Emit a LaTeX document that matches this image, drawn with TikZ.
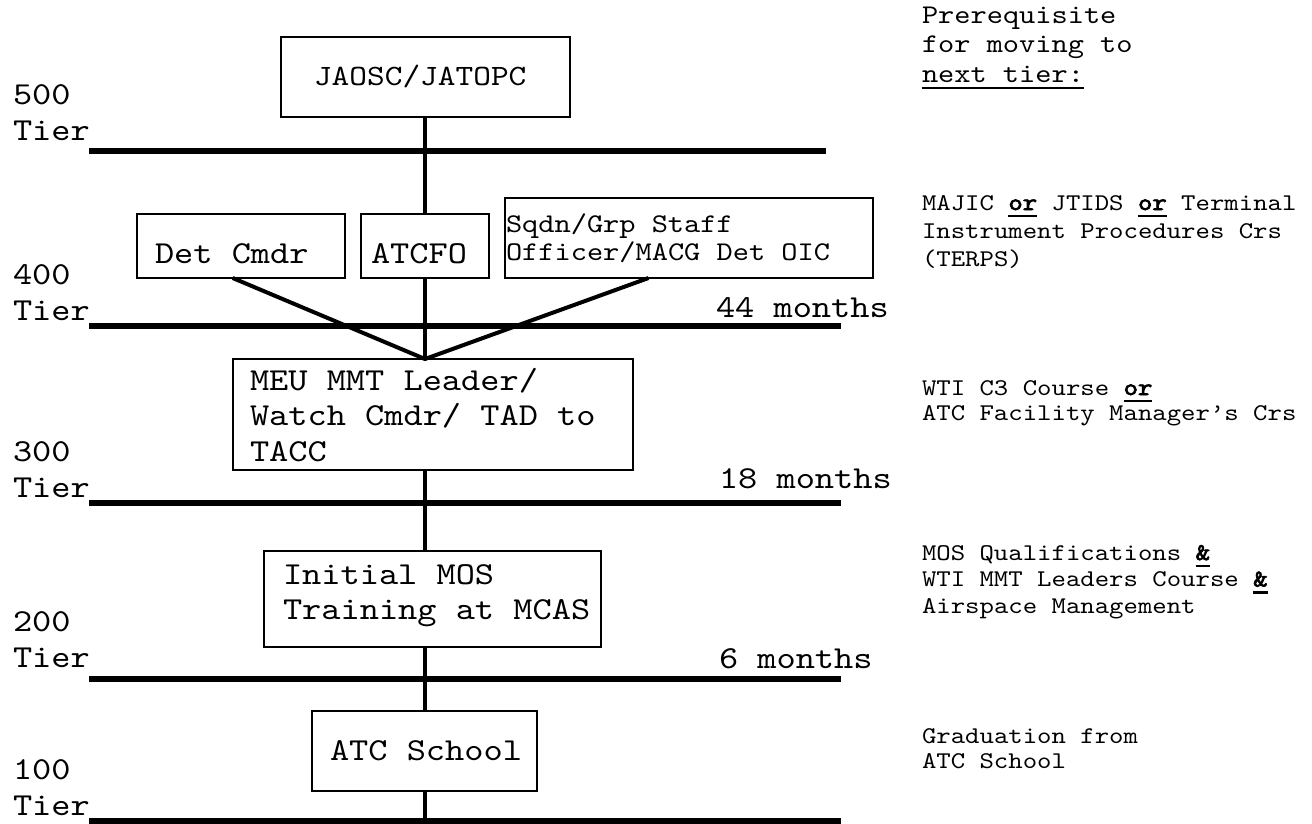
\documentclass[tikz,border=0pt]{standalone}
\usepackage{fontspec}
\setmainfont{lmmono10-regular.otf}[FakeStretch=1.143,BoldFont=lmmono10-regular.otf,BoldFeatures={FakeStretch=1.143,FakeBold=3}]
\usetikzlibrary{calc}
\newcommand\orul[1]{\setbox0=\hbox{\bfseries #1}\rlap{\rule[-7pt]{\wd0}{2.4pt}}\box0\relax}
\newcommand\ulthin[1]{\setbox0=\hbox{#1}\rlap{\rule[-6.7pt]{\wd0}{2pt}}\box0\relax}
\begin{document}
\begin{tikzpicture}[x=1pt,y=-1pt,
  box/.style={draw,line width=1.4pt,inner sep=0pt,outer sep=0pt,anchor=north west},
  tierline/.style={line width=5.5pt},
  trunk/.style={line width=4pt},
  big/.style={anchor=base west,inner sep=0pt,outer sep=0pt,font=\fontsize{32}{35.5}\selectfont},
  tierlbl/.style={big,font=\fontsize{32}{36}\selectfont},
  mid/.style={big,font=\fontsize{27}{28}\selectfont},
  note/.style={anchor=base west,inner sep=0pt,outer sep=0pt,font=\fontsize{24}{28.3}\selectfont}]
\useasboundingbox (0,0) rectangle (1312,823);
\fill[white] (0,0) rectangle (1312,823);

% tier lines
\draw[tierline] (89,151) -- (826,151);
\draw[tierline] (89,326) -- (841,326);
\draw[tierline] (89,503) -- (841,503);
\draw[tierline] (89,679) -- (841,679);
\draw[tierline] (89,821) -- (841,821);
\coordinate (base) at (425,821);

% boxes
\node[box,minimum width=289pt,minimum height=80pt] (jaosc) at (281,37) {};
\node[box,minimum width=208pt,minimum height=64pt] (det) at (137,214) {};
\node[box,minimum width=128pt,minimum height=64pt] (atcfo) at (361,214) {};
\node[box,minimum width=368pt,minimum height=80pt] (sqdn) at (505,198) {};
\node[box,minimum width=400pt,minimum height=111pt] (meu) at (233,359) {};
\node[box,minimum width=337pt,minimum height=96pt] (imos) at (264,551) {};
\node[box,minimum width=225pt,minimum height=80pt] (atc) at (312,711) {};

% connectors
\coordinate (hub) at (atcfo.south |- meu.north);
\draw[trunk] (jaosc.south -| hub) -- (atcfo.north -| hub);
\draw[trunk] (atcfo.south -| hub) -- (hub);
\draw[trunk] ($(det.south west)!0.46!(det.south east)$) -- (hub) -- ($(sqdn.south west)!0.39!(sqdn.south east)$);
\draw[trunk] (meu.south -| hub) -- (imos.north -| hub);
\draw[trunk] (imos.south -| hub) -- (atc.north -| hub);
\draw[trunk] (atc.south -| hub) -- (base);

% box texts
\node[big,font=\fontsize{29.5}{32}\selectfont] (tjaosc) at (314,85) {JAOSC/JATOPC};
\node[big] (tdet) at (155,263) {Det Cmdr};
\node[big] (tatcfo) at (371,263) {ATCFO};
\node[mid] (tsqdn) at (506,232) {\vtop{\hbox{Sqdn/Grp Staff}\hbox{Officer/MACG Det OIC}}};
\node[big] (tmeu) at (250,390) {\vtop{\hbox{MEU MMT Leader/}\hbox{Watch Cmdr/ TAD to}\hbox{TACC}}};
\node[big] (timos) at (283,584) {\vtop{\hbox{Initial MOS}\hbox{Training at MCAS}}};
\node[big] (tatc) at (330,760) {ATC School};

% tier labels
\node[tierlbl] (t500) at (13,104) {\vtop{\hbox{500}\hbox{Tier}}};
\node[tierlbl] (t400) at (13,284) {\vtop{\hbox{400}\hbox{Tier}}};
\node[tierlbl] (t300) at (13,461) {\vtop{\hbox{300}\hbox{Tier}}};
\node[tierlbl] (t200) at (13,631) {\vtop{\hbox{200}\hbox{Tier}}};
\node[tierlbl] (t100) at (13,779) {\vtop{\hbox{100}\hbox{Tier}}};

% months
\node[big] (m44) at (716,317) {44 months};
\node[big] (m18) at (719,488) {18 months};
\node[big] (m6) at (719,668) {6 months};

% prerequisites
\node[note,font=\fontsize{27}{29.5}\selectfont] (pre) at (922,23) {\vtop{\hbox{Prerequisite}\hbox{for moving to}\hbox{\ulthin{next tier:}}}};
\node[note] (n400) at (922,210) {\vtop{\hbox{MAJIC \orul{or} JTIDS \orul{or} Terminal}\hbox{Instrument Procedures Crs}\hbox{(TERPS)}}};
\node[note,font=\fontsize{24}{25}\selectfont] (n300) at (922,395) {\vtop{\hbox{WTI C3 Course \orul{or}}\hbox{ATC Facility Manager’s Crs}}};
\node[note,font=\fontsize{24}{26.5}\selectfont] (n200) at (922,560) {\vtop{\hbox{MOS Qualifications \orul{\&}}\hbox{WTI MMT Leaders Course \orul{\&}}\hbox{Airspace Management}}};
\node[note,font=\fontsize{24}{25}\selectfont] (n100) at (922,743) {\vtop{\hbox{Graduation from}\hbox{ATC School}}};
\end{tikzpicture}
\end{document}
